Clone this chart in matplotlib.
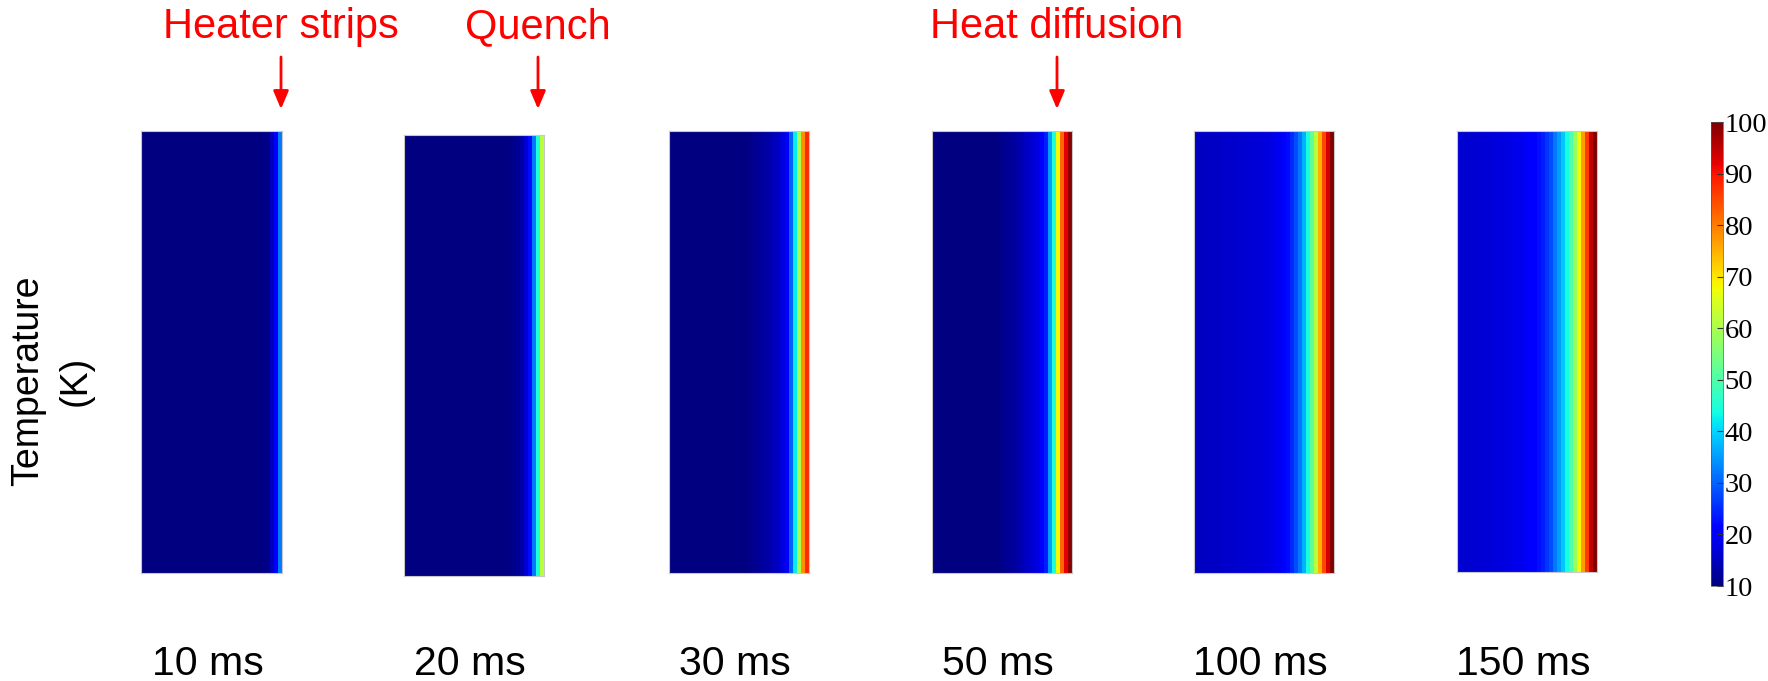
import numpy as np
import matplotlib
matplotlib.use("Agg")
import matplotlib.pyplot as plt

# ---- data ----
times = ["10 ms", "20 ms", "30 ms", "50 ms", "100 ms", "150 ms"]

# temperature (K) per column, left -> right, 35 columns per panel
temp_10ms = [10, 10, 10, 10, 10, 10, 10, 10, 10, 10,
             10, 10, 10, 10, 10, 10, 10, 10, 10, 10,
             10, 10, 10, 10, 10, 10, 10, 10, 10, 10,
             10.5, 11, 15, 21, 32]
temp_20ms = [10, 10, 10, 10, 10, 10, 10, 10, 10, 10,
             10, 10, 10, 10, 10, 10, 10, 10, 10, 10,
             10, 10, 10, 10, 10, 10,
             10.5, 11, 12, 13, 17, 22, 32, 45, 62]
temp_30ms = [10, 10, 10, 10, 10, 10, 10, 10, 10, 10,
             10, 10, 10, 10, 10, 10, 10, 10, 10,
             10.5, 11, 11.5, 12, 12.5, 13, 14, 15, 16, 18,
             21, 30, 42, 60, 78, 88]
temp_50ms = [10, 10, 10, 10, 10, 10, 10, 10, 10, 10,
             10, 10, 10, 10, 10, 10,
             10.5, 11, 11.5, 12, 12.5, 13, 14, 15, 16, 17,
             18, 20, 24, 35, 45, 68, 82, 92, 99]
temp_100ms = [15, 15, 15.5, 15.5, 15.5, 15.5, 15.5, 16, 16, 16,
              16, 16.5, 16.5, 16.5, 17, 17, 17, 17.5, 17.5, 18,
              18.5, 19, 20, 22, 25, 28, 32, 37, 44, 52,
              62, 75, 85, 93, 100]
temp_150ms = [16.5, 16.5, 16.5, 16.5, 16.5, 17, 17, 17, 17, 17.5,
              17.5, 17.5, 18, 18, 18.5, 18.5, 19, 19.5, 20, 21,
              22.5, 24, 26, 28, 32, 35, 39, 44, 50, 58,
              68, 77, 86, 95, 100]
profiles = [temp_10ms, temp_20ms, temp_30ms, temp_50ms, temp_100ms, temp_150ms]

cbar_ticks = [10, 20, 30, 40, 50, 60, 70, 80, 90, 100]
annot_texts = ["Heater strips", "Quench", "Heat diffusion"]

# ---- layout (figure pixels) ----
W, H = 1768, 681
fig = plt.figure(figsize=(W / 100, H / 100), dpi=100)

panel_px = [(141, 282, 131, 573), (404, 544, 135, 576), (669, 809, 131, 573),
            (932, 1072, 131, 573), (1194, 1334, 131, 573), (1457, 1597, 131, 572)]

sans = ["Liberation Sans", "DejaVu Sans"]
mesh = None
for (x0, x1, yt, yb), prof, lab in zip(panel_px, profiles, times):
    ax = fig.add_axes([x0 / W, 1 - yb / H, (x1 - x0) / W, (yb - yt) / H])
    vals = np.array(prof, dtype=float)[None, :]
    xe = np.linspace(0, 1, vals.shape[1] + 1)
    mesh = ax.pcolormesh(xe, [0, 1], vals, cmap="jet", vmin=10, vmax=100,
                         shading="flat")
    ax.set_xlim(0, 1)
    ax.set_ylim(0, 1)
    ax.set_xticks([])
    ax.set_yticks([])
    for s in ax.spines.values():
        s.set_color("#c8c8c8")
        s.set_linewidth(0.8)
    xc = (x0 + x1) / 2 - 4
    fig.text(xc / W, 1 - 675 / H, lab, ha="center", va="baseline",
             fontsize=29.5, family=sans, color="black")

# annotations with arrows
annot_x = [281, 538, 1057]
for txt, xa in zip(annot_texts, annot_x):
    fig.text(xa / W, 1 - 38 / H, txt, ha="center", va="baseline",
             fontsize=30, family=sans, color="red")
    fig.add_artist(matplotlib.patches.FancyArrowPatch(
        (xa / W, 1 - 57 / H), (xa / W, 1 - 109 / H),
        transform=fig.transFigure, arrowstyle="-|>,head_length=0.4,head_width=0.17",
        mutation_scale=27, color="red", lw=2, shrinkA=0, shrinkB=0))

# y label
fig.text(52 / W, 1 - 381 / H, "Temperature\n(K)", rotation=90, ha="center",
         va="center", fontsize=27, family=sans, linespacing=1.4,
         multialignment="center")

# colorbar
cax = fig.add_axes([1711 / W, 1 - 586 / H, 12 / W, (586 - 122) / H])
cb = fig.colorbar(mesh, cax=cax, ticks=cbar_ticks)
cb.outline.set_linewidth(0.5)
cb.outline.set_edgecolor("#555555")
cax.tick_params(direction="in", length=4, width=0.8, color="#333333", pad=1)
for t in cax.get_yticklabels():
    t.set_family(["Liberation Serif", "DejaVu Serif"])
    t.set_fontsize(20.5)

fig.savefig("out.png", dpi=100)
